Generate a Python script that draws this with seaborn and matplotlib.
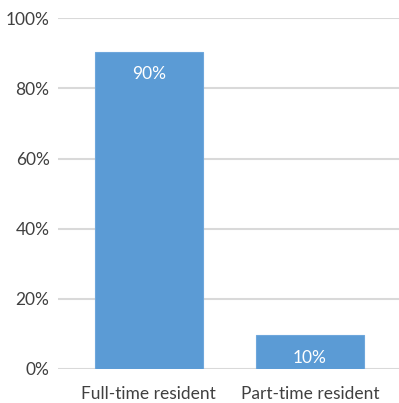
import matplotlib
matplotlib.use("Agg")
import matplotlib.pyplot as plt
import seaborn as sns
import pandas as pd

# Share of residents by residency type (percent)
categories = ["Full-time resident", "Part-time resident"]
shares = [90.4, 9.6]
y_ticks = [0, 20, 40, 60, 80, 100]

df = pd.DataFrame({"category": categories, "share": shares})

sns.set_theme(style="white")
plt.rcParams["font.family"] = ["Lato", "DejaVu Sans"]

fig = plt.figure(figsize=(3.99, 4.03), dpi=100)
ax = fig.add_axes([0.145, 0.0844, 0.855, 0.8702])

sns.barplot(data=df, x="category", y="share", color="#5b9bd5",
            saturation=1, width=0.67, edgecolor="#6ea7dc", linewidth=0.8,
            ax=ax, zorder=3)

ax.set_ylim(0, 100)
ax.set_xlim(-0.565, 1.553)
ax.set_yticks(y_ticks)
ax.set_yticklabels([f"{t}%" for t in y_ticks])
ax.yaxis.grid(True, color="#d9d9d9", linewidth=1.5, zorder=0)
ax.set_axisbelow(True)
for s in ax.spines.values():
    s.set_visible(False)
ax.tick_params(axis="y", length=0, pad=6, labelsize=12.5, labelcolor="#404040")
ax.tick_params(axis="x", length=0, pad=12, labelsize=12.5, labelcolor="#404040")
ax.set_xlabel("")
ax.set_ylabel("")

for i, v in enumerate(shares):
    ax.annotate(f"{v:.0f}%", xy=(i, v), xytext=(0, -16), textcoords="offset points",
                ha="center", va="center", color="white", fontsize=12.5, zorder=4)

fig.savefig("out.png", dpi=100)
